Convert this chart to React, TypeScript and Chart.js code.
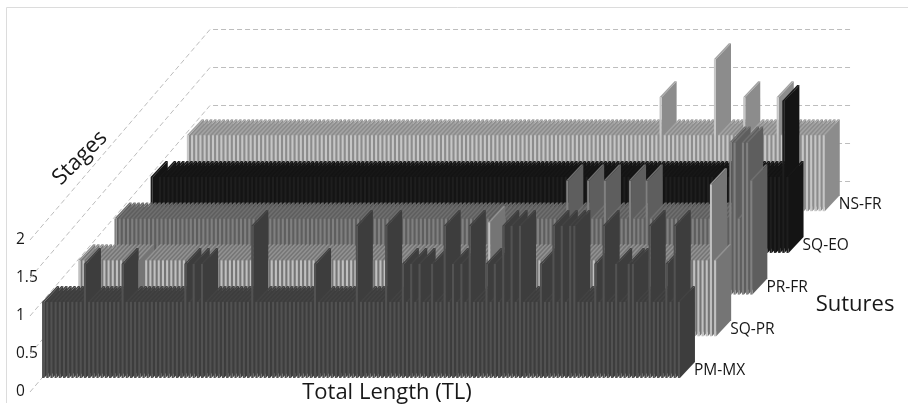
import React, { useEffect, useRef } from "react";
import { Chart, registerables } from "chart.js";

Chart.register(...registerables);

const categories = [
  1,2,3,4,5,6,7,8,9,10,11,12,13,14,15,16,17,18,19,20,21,22,23,24,25,26,27,28,29,30,
  31,32,33,34,35,36,37,38,39,40,41,42,43,44,45,46,47,48,49,50,51,52,53,54,55,56,57,58,59,60,
  61,62,63,64,65,66,67,68,69,70,71,72,73,74,75,76,77,78,79,80,81,82,83,84,85,86,87,88,89,90,
  91,92,93,94,95,96,97,98,99,100,101,102,103,104,105,106,107,108,109,110,111,112,113,114,115,116,117,118,119,120,
  121,122,123,124,125,126,127,128,129,130,131,132,133,134,135,136,137,138,139,140,141,142,143,144,145,146,147,148,149,150,
  151,152,153,
];

const pmMx = [
  1,1,1,1,1,1,1,1,1,1,
  1.5,1,1,1,1,1,1,1,1,1.5,
  1,1,1,1,1,1,1,1,1,1,
  1,1,1,1,1.5,1,1.5,1,1.5,1,
  1,1,1,1,1,1,1,1,1,1,
  2,1,1,1,1,1,1,1,1,1,
  1,1,1,1,1,1.5,1,1,1,1,
  1,1,1,1,1,2,1,1,1,1,
  1,1,2,1,1,1,1.5,1,1.5,1,
  1.5,1,1,1.5,1,1,2,1,1.5,1,
  1.5,1,2,1,1,1,1.5,1,1.5,1,
  2,1,2,1,2,1,1,1,1,1.5,
  1,1,2,1,2,1,2,2,1,1,
  1,1,1.5,1,2,1,1,1.5,1,1,
  1.5,1.5,1,1,1,2,1,1,1,1.5,
  1,2,1,
];
const sqPr = [
  1,1,1,1,1,1,1,1,1,1,
  1,1,1,1,1,0,1,1,1,1,
  1,1,1,1,1,1,1,1,1,1,
  1,1,1,1,1,1,1,1,1,1,
  1,1,1,1,1,1,1,1,1,1,
  1,1,1,1,1,1,1,1,1,1,
  1,1,1,1,1,1,1,1,1,1,
  1,1,1,1,1,1,1,1,1,1,
  1,1,1,1,1,1,1,1,1,1,
  1,1,1,1,1,1,1,1,1.5,1,
  1,1,1,1,1,1,1,1,1,1,
  1,1,1,1,1,1,1,1,1,1,
  1,1,1,1,1,1,1,1,1,1,
  1,1,1,1,1,1,1,1,1,1,
  1,1,1,1,1,1,1,1,1,1,
  1,2,1,
];
const prFr = [
  1,1,1,1,1,1,1,1,1,1,
  1,1,1,1,1,1,1,1,1,1,
  1,1,1,1,1,1,1,1,1,1,
  1,1,1,1,1,1,1,1,1,1,
  1,1,1,1,1,1,1,1,1,1,
  1,1,1,1,1,1,1,1,1,1,
  1,1,1,1,1,1,1,1,1,1,
  1,1,1,1,1,1,1,1,1,1,
  1,1,1,1,1,1,1,1,1,1,
  1,1,1,1,1,1,1,1,1,1,
  1,1,1,1,1,1,1,1,1.5,1,
  1,1,1,1.5,1,1,1,1.5,1,1,
  1,1,1,1.5,1,1,1,1.5,1,1,
  1,1,1,1,1,1,1,1,1,1,
  1,1,1,1,1,1,1,2,2,1,
  2,2,1.5,
];
const sqEo = [
  1,0,1,1,1,1,1,1,1,1,
  1,1,1,1,1,1,1,1,1,1,
  1,1,1,1,1,1,1,1,1,1,
  1,1,1,1,1,1,1,1,1,1,
  1,1,1,1,1,1,1,1,1,1,
  1,1,1,1,1,1,1,1,1,1,
  1,1,1,1,1,1,1,1,1,1,
  1,1,1,1,1,1,1,1,1,1,
  1,1,1,1,1,1,1,1,1,1,
  1,1,1,1,1,1,1,1,1,1,
  1,1,1,1,1,1,1,1,1,1,
  1,1,1,1,1,1,1,1,1,1,
  1,1,1,1,1,1,1,1,1,1,
  1,1,1,1,1,1,1,1,1,1,
  1,1,1,1,1,1,1,1,1,1,
  1,2,1,
];
const nsFr = [
  1,1,1,1,1,1,1,1,1,1,
  1,1,1,1,1,1,1,1,1,1,
  1,1,1,1,1,1,1,1,1,1,
  1,1,1,1,1,1,1,1,1,1,
  1,1,1,1,1,1,1,1,1,1,
  1,1,1,1,1,1,1,1,1,1,
  1,1,1,1,1,1,1,1,1,1,
  1,1,1,1,1,1,1,1,1,1,
  1,1,1,1,1,1,1,1,1,1,
  1,1,1,1,1,1,1,1,1,1,
  1,1,1,1,1,1,1,1,1,1,
  1,1,1,1.5,1,1,1,1,1,1,
  1,1,1,1,1,1,2,1,1,1,
  1,1,1,1.5,1,1,1,1,1,1,
  1,1.5,1,1,1,1,1,1,1,1,
  1,1,1,
];

const seriesNames = ["PM-MX", "SQ-PR", "PR-FR", "SQ-EO", "NS-FR"];
const seriesValues = [pmMx, sqPr, prFr, sqEo, nsFr];
const frontColors = ["#525252", "#c0c0c0", "#808080", "#1e1e1e", "#c6c6c6"];
const sideColors = ["#3d3d3d", "#757575", "#5e5e5e", "#141414", "#8c8c8c"];
const topColors = ["#434343", "#929292", "#6f6f6f", "#171717", "#a3a3a3"];
const yTicks = [0, 0.5, 1, 1.5, 2];

const ROW_DX = 36.2;
const ROW_DY = 41.7;
const BAR_DX = 15;
const BAR_DY = 16;
const WALL_DX = 169;
const WALL_DY = 197;
const FONT = '"Open Sans", sans-serif';

const chart3d = {
  id: "chart3d",
  beforeDraw(chart: any) {
    const { ctx, width, height } = chart;
    ctx.save();
    ctx.fillStyle = "#ffffff";
    ctx.fillRect(0, 0, width, height);
    ctx.strokeStyle = "#dcdcdc";
    ctx.lineWidth = 1;
    ctx.beginPath();
    ctx.moveTo(6.5, height - 3);
    ctx.lineTo(6.5, 7.5);
    ctx.lineTo(width, 7.5);
    ctx.stroke();
    ctx.restore();
  },
  beforeDatasetsDraw(chart: any) {
    const { ctx, chartArea, scales } = chart;
    ctx.save();
    for (const v of yTicks) {
      const y = scales.y.getPixelForValue(v);
      const backY = Math.round(y - WALL_DY) + 0.5;
      ctx.strokeStyle = "#bdbdbd";
      ctx.lineWidth = 1;
      ctx.setLineDash([5, 3]);
      ctx.beginPath();
      ctx.moveTo(chartArea.left - 11, y + 14);
      ctx.lineTo(chartArea.left + WALL_DX, backY);
      ctx.lineTo(851, backY);
      ctx.stroke();
    }
    ctx.restore();
  },
  beforeDatasetDraw(chart: any, args: any) {
    const { ctx } = chart;
    const k = args.index;
    const meta = chart.getDatasetMeta(k);
    const values = chart.data.datasets[k].data;
    ctx.save();
    meta.data.forEach((bar: any, i: number) => {
      if (!values[i]) return;
      const x0 = bar.x - bar.width / 2 + k * ROW_DX;
      const x1 = x0 + bar.width;
      const yt = bar.y - k * ROW_DY;
      const yb = bar.base - k * ROW_DY;
      ctx.fillStyle = sideColors[k];
      ctx.beginPath();
      ctx.moveTo(x1, yb);
      ctx.lineTo(x1 + BAR_DX, yb - BAR_DY);
      ctx.lineTo(x1 + BAR_DX, yt - BAR_DY);
      ctx.lineTo(x1, yt);
      ctx.closePath();
      ctx.fill();
      ctx.fillStyle = topColors[k];
      ctx.beginPath();
      ctx.moveTo(x0, yt);
      ctx.lineTo(x0 + BAR_DX, yt - BAR_DY);
      ctx.lineTo(x1 + BAR_DX, yt - BAR_DY);
      ctx.lineTo(x1, yt);
      ctx.closePath();
      ctx.fill();
      ctx.fillStyle = frontColors[k];
      ctx.fillRect(x0, yt, x1 - x0, yb - yt);
    });
    ctx.restore();
    return false;
  },
  afterDraw(chart: any) {
    const { ctx, chartArea } = chart;
    ctx.save();
    ctx.fillStyle = "#181818";
    ctx.textBaseline = "middle";
    ctx.textAlign = "left";
    ctx.font = `15.5px ${FONT}`;
    seriesNames.forEach((name, k) => {
      ctx.fillText(name, chartArea.right + 13 + k * ROW_DX, chartArea.bottom - 7 - k * ROW_DY);
    });
    ctx.font = `22px ${FONT}`;
    ctx.textAlign = "center";
    ctx.fillText("Total Length (TL)", 387, 393);
    ctx.fillText("Sutures", 855, 305);
    ctx.save();
    ctx.translate(80, 158);
    ctx.rotate(-Math.PI / 4);
    ctx.fillText("Stages", 0, 0);
    ctx.restore();
    ctx.restore();
  },
};

export default function App() {
  const ref = useRef<HTMLCanvasElement | null>(null);
  useEffect(() => {
    const chart = new Chart(ref.current as HTMLCanvasElement, {
      type: "bar",
      data: {
        labels: categories,
        datasets: seriesNames.map((name, k) => ({
          label: name,
          data: seriesValues[k],
          backgroundColor: frontColors[k],
          grouped: false,
          clip: false,
          barPercentage: 1,
          categoryPercentage: 0.5,
        })),
      },
      options: {
        animation: false,
        responsive: false,
        devicePixelRatio: 1,
        layout: { padding: { left: 16, right: 227, top: 226, bottom: 28 } },
        plugins: { legend: { display: false }, tooltip: { enabled: false } },
        scales: {
          x: { display: false, offset: true },
          y: {
            min: 0,
            max: 2,
            afterFit: (s: any) => {
              s.width = 25;
            },
            grid: { display: false },
            border: { display: false },
            ticks: {
              stepSize: 0.5,
              labelOffset: 13.5,
              crossAlign: "far",
              padding: 0,
              color: "#181818",
              font: { family: FONT, size: 15.5 },
              callback: (v: any) => String(v),
            },
          },
        },
      } as any,
      plugins: [chart3d],
    } as any);
    return () => chart.destroy();
  }, []);
  return (
    <canvas
      ref={ref}
      width={908}
      height={406}
      style={{ position: "fixed", left: 0, top: 0, width: 908, height: 406, display: "block", filter: "blur(0.35px)" }}
    />
  );
}
